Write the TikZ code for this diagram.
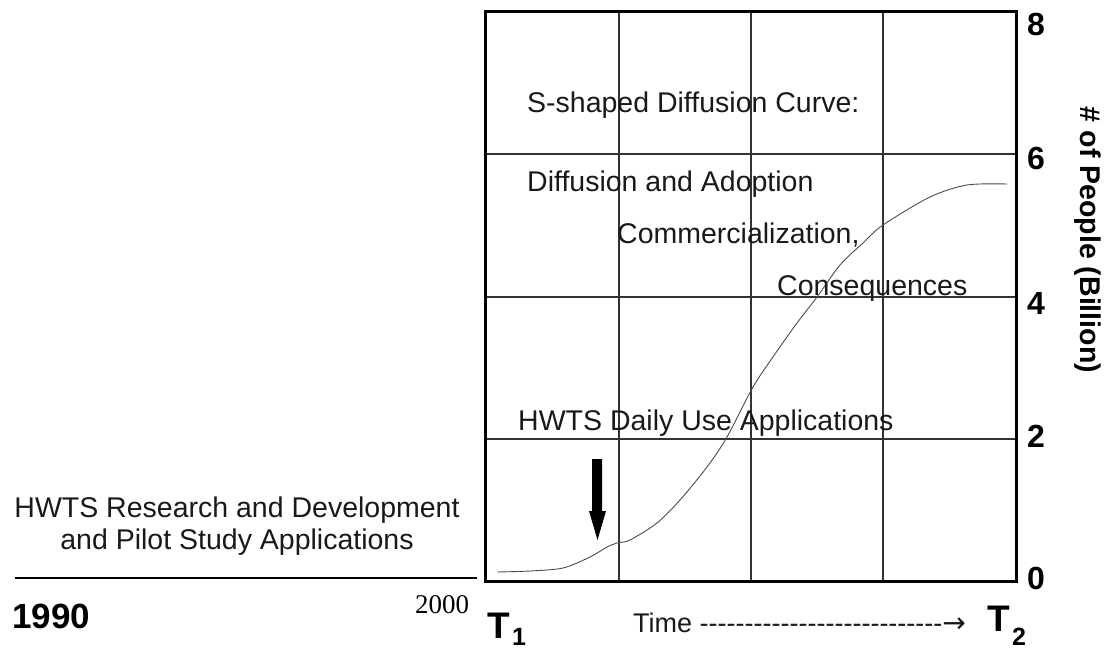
\documentclass[tikz,border=0pt]{standalone}
\usepackage{fontspec}
\setmainfont{Liberation Sans}
\newfontfamily\plainsans[Ligatures=TeXOff]{Liberation Sans}
\newfontfamily\arrowfont{DejaVu Sans}
\newfontfamily\yearserif{Liberation Serif}
\begin{document}
\begin{tikzpicture}[x=1pt,y=-1pt,
  txt/.style={font=\fontsize{28.5}{30}\selectfont, inner sep=0, anchor=base west, text=black!90},
  ctr/.style={font=\fontsize{28.5}{30}\selectfont, inner sep=0, anchor=base, text=black!90},
  ytick/.style={font=\bfseries\fontsize{32}{33}\selectfont, inner sep=0, anchor=west},
  big/.style={font=\bfseries\fontsize{37}{38}\selectfont, inner sep=0, anchor=base west},
  sub/.style={font=\bfseries\fontsize{25}{26}\selectfont, inner sep=0, anchor=base west},
  gridline/.style={line width=1.3pt, draw=black!80},
  frame/.style={line width=3pt, draw=black},
  scurve/.style={line width=0.9pt, draw=black!70}]
\useasboundingbox (0,0) rectangle (1107,650);
% grid
\coordinate (bl) at (485,581);
\coordinate (tr) at (1016,12);
\foreach \x in {619,751,883} \draw[gridline] (\x,12) -- (\x,581);
\foreach \y in {154,297,439} \draw[gridline] (485,\y) -- (1016,\y);
\draw[frame] (bl) rectangle (tr);
% curve
\draw[scurve] plot[smooth, tension=0.5] coordinates {(497,572) (530,571) (563,568) (590,557) (607,547) (617,543) (630,540) (657,523) (680,500) (707,467) (727,437) (753,387) (775,354) (797,323) (817,297) (840,265) (863,243) (883,225) (930,197) (967,185) (1007,184)};
% arrow
\fill[black] (592,459) -- (602,459) -- (602,511) -- (606,511) -- (597.5,540) -- (589,511) -- (592,511) -- cycle;
% texts in plot
\node[txt] (t1) at (527,113) {S-shaped Diffusion Curve:};
\node[txt] (t2) at (527,191) {Diffusion and Adoption};
\node[txt] (t3) at (617,243) {Commercialization,};
\node[txt] (t4) at (777,295) {Consequences};
\node[txt] (t5) at (518,430) {HWTS Daily Use Applications};
% y ticks
\node[ytick] (y8) at (1027,24) {8};
\node[ytick] (y6) at (1027,158) {6};
\node[ytick] (y4) at (1027,303) {4};
\node[ytick] (y2) at (1027,436) {2};
\node[ytick] (y0) at (1027,578) {0};
\node[font=\bfseries\fontsize{28.5}{30}\selectfont, inner sep=0, rotate=-90] (ylab) at (1088,240) {\# of People (Billion)};
% bottom
\node[big] (T1) at (487,638) {T};
\node[sub] (T1s) at (512,645) {1};
\node[big] (T2) at (987,631) {T};
\node[sub] (T2s) at (1012,645) {2};
\node[txt, font=\plainsans\fontsize{27}{28}\selectfont] (time) at (633,632) {Time ---------------------------{\arrowfont\fontsize{28}{30}\selectfont →}};
% left
\node[ctr] (l1) at (237,517) {HWTS Research and Development};
\node[ctr] (l2) at (237,549) {and Pilot Study Applications};
\coordinate (la) at (15,578);
\coordinate (lb) at (477,578);
\draw[line width=2.5pt] (la) -- (lb);
\node[font=\bfseries\fontsize{35}{36}\selectfont, inner sep=0, anchor=base west] (y1990) at (12,628) {1990};
\node[font=\yearserif\fontsize{27}{28}\selectfont, inner sep=0, anchor=base west] (y2000) at (415,613) {2000};
\end{tikzpicture}
\end{document}
